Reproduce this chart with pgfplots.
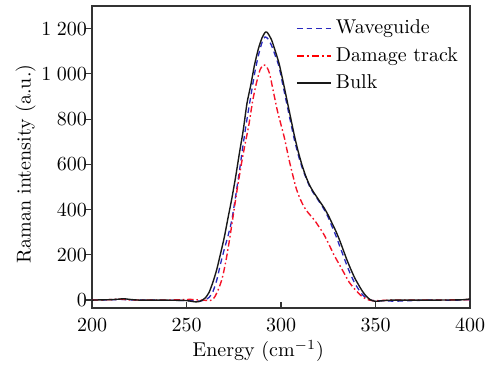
\documentclass[border=0pt]{standalone}
\usepackage{pgfplots}
\pgfplotsset{compat=1.18}
\definecolor{wgblue}{RGB}{40,40,190}
\definecolor{dtred}{RGB}{245,20,40}
\begin{document}
\begin{tikzpicture}
\begin{axis}[
  name=ax,
  scale only axis,
  width=189pt, height=151pt,
  xmin=200, xmax=400, ymin=-35, ymax=1300,
  xtick={200,250,300,350,400},
  ytick={0,200,400,600,800,1000,1200},
  axis line style={line width=0.6pt, black!80},
  tick style={line width=0.6pt, black!80},
  tick align=outside,
  major tick length=3pt,
  xtick style={yshift=3pt},
  xtick pos=bottom, ytick pos=left,
  minor tick num=0,
  /pgf/number format/1000 sep={\;},
  yticklabel style={xshift=4pt},
  xticklabel style={yshift=1pt},
  xlabel={Energy (cm$^{-1}$)},
  ylabel={Raman intensity (a.u.)},
  xlabel shift=-2.5pt,
  ylabel shift=-4pt,
  x label style={at={(ticklabel cs:0.44)}, anchor=near ticklabel},
  y label style={at={(ticklabel cs:0.477)}, anchor=near ticklabel},
  legend style={draw=none, fill=none, at={(rel axis cs:0.985,0.975)}, anchor=north east, row sep=1.2pt, inner sep=1pt},
  legend cell align=left,
]
\addplot[wgblue, line width=0.65pt, dash pattern=on 2.8pt off 2pt, smooth, tension=0.4] coordinates {
(200,0) (210,1) (215,3) (220,1) (230,0) (245,-1) (252,-3) (256,-4) (258,-3) (260,2) (262,12) (264,38) (266,88) (268,160) (270,225) (272,285) (274,355) (276,460) (278,570) (280,690) (282,800) (284,900) (286,1000) (288,1080) (290,1140) (291.5,1163) (293,1156) (295,1125) (297,1080) (299,1030) (301,950) (303,870) (305,790) (307,712) (309,645) (311,590) (313,545) (315,505) (317,475) (319,450) (321,425) (323,398) (325,365) (327,325) (329,285) (331,240) (333,195) (335,150) (337,110) (339,75) (341,48) (343,25) (345,10) (347,0) (350,-3) (355,-3) (360,-5) (370,-2) (380,0) (390,-1) (400,2)
};
\addlegendentry{Waveguide}
\addplot[color=dtred, line width=0.7pt, dash pattern=on 3.2pt off 1.4pt on 0.8pt off 1.4pt, smooth, tension=0.4,
  legend image code/.code={\draw[red, line width=0.9pt, dash pattern=on 3.6pt off 1.4pt on 1.1pt off 1.4pt] (0cm,0cm) -- (0.6cm,0cm);}] coordinates {
(200,0) (210,2) (215,4) (220,1) (230,0) (240,0) (248,2) (252,3) (256,1) (260,-1) (262,-2) (263.5,0) (265,15) (267,50) (269,100) (271,180) (273,280) (275,390) (277,500) (279,600) (281,690) (283,775) (285,880) (287,960) (289,1020) (290.8,1040) (292.5,1030) (294,1000) (296,920) (298,840) (300,775) (302,710) (304,630) (306,560) (308,495) (310,450) (312,415) (314,390) (316,370) (318,350) (320,325) (322,300) (324,270) (326,235) (328,200) (330,170) (332,140) (334,110) (336,80) (338,58) (340,40) (342,22) (344,10) (346,2) (348,-2) (352,-2) (360,0) (380,0) (400,2)
};
\addlegendentry{Damage track}
\addplot[black!90, line width=0.7pt, smooth, tension=0.4] coordinates {
(200,0) (205,1) (210,2) (214,4) (217,6) (220,3) (225,0) (235,0) (245,-1) (250,-2) (253,-6) (255,-8) (257,-6) (258,-2) (260,10) (262,35) (264,80) (266,135) (268,205) (270,278) (272,365) (274,450) (276,545) (278,650) (280,750) (282,870) (284,950) (286,1040) (288,1110) (290,1160) (291.8,1185) (293,1180) (295,1150) (297,1100) (299,1045) (301,970) (303,890) (305,810) (307,730) (309,660) (311,600) (313,550) (315,510) (317,480) (319,455) (321,430) (323,405) (325,375) (327,340) (329,305) (331,265) (333,220) (335,175) (337,135) (339,98) (341,68) (343,40) (345,18) (347,3) (349,-4) (351,-5) (355,-2) (360,0) (380,0) (395,1) (400,5)
};
\addlegendentry{Bulk}
\end{axis}
\pgfresetboundingbox
\path ([xshift=-46pt,yshift=-28pt]ax.south west) rectangle ([xshift=10pt,yshift=3pt]ax.north east);
\end{tikzpicture}
\end{document}
